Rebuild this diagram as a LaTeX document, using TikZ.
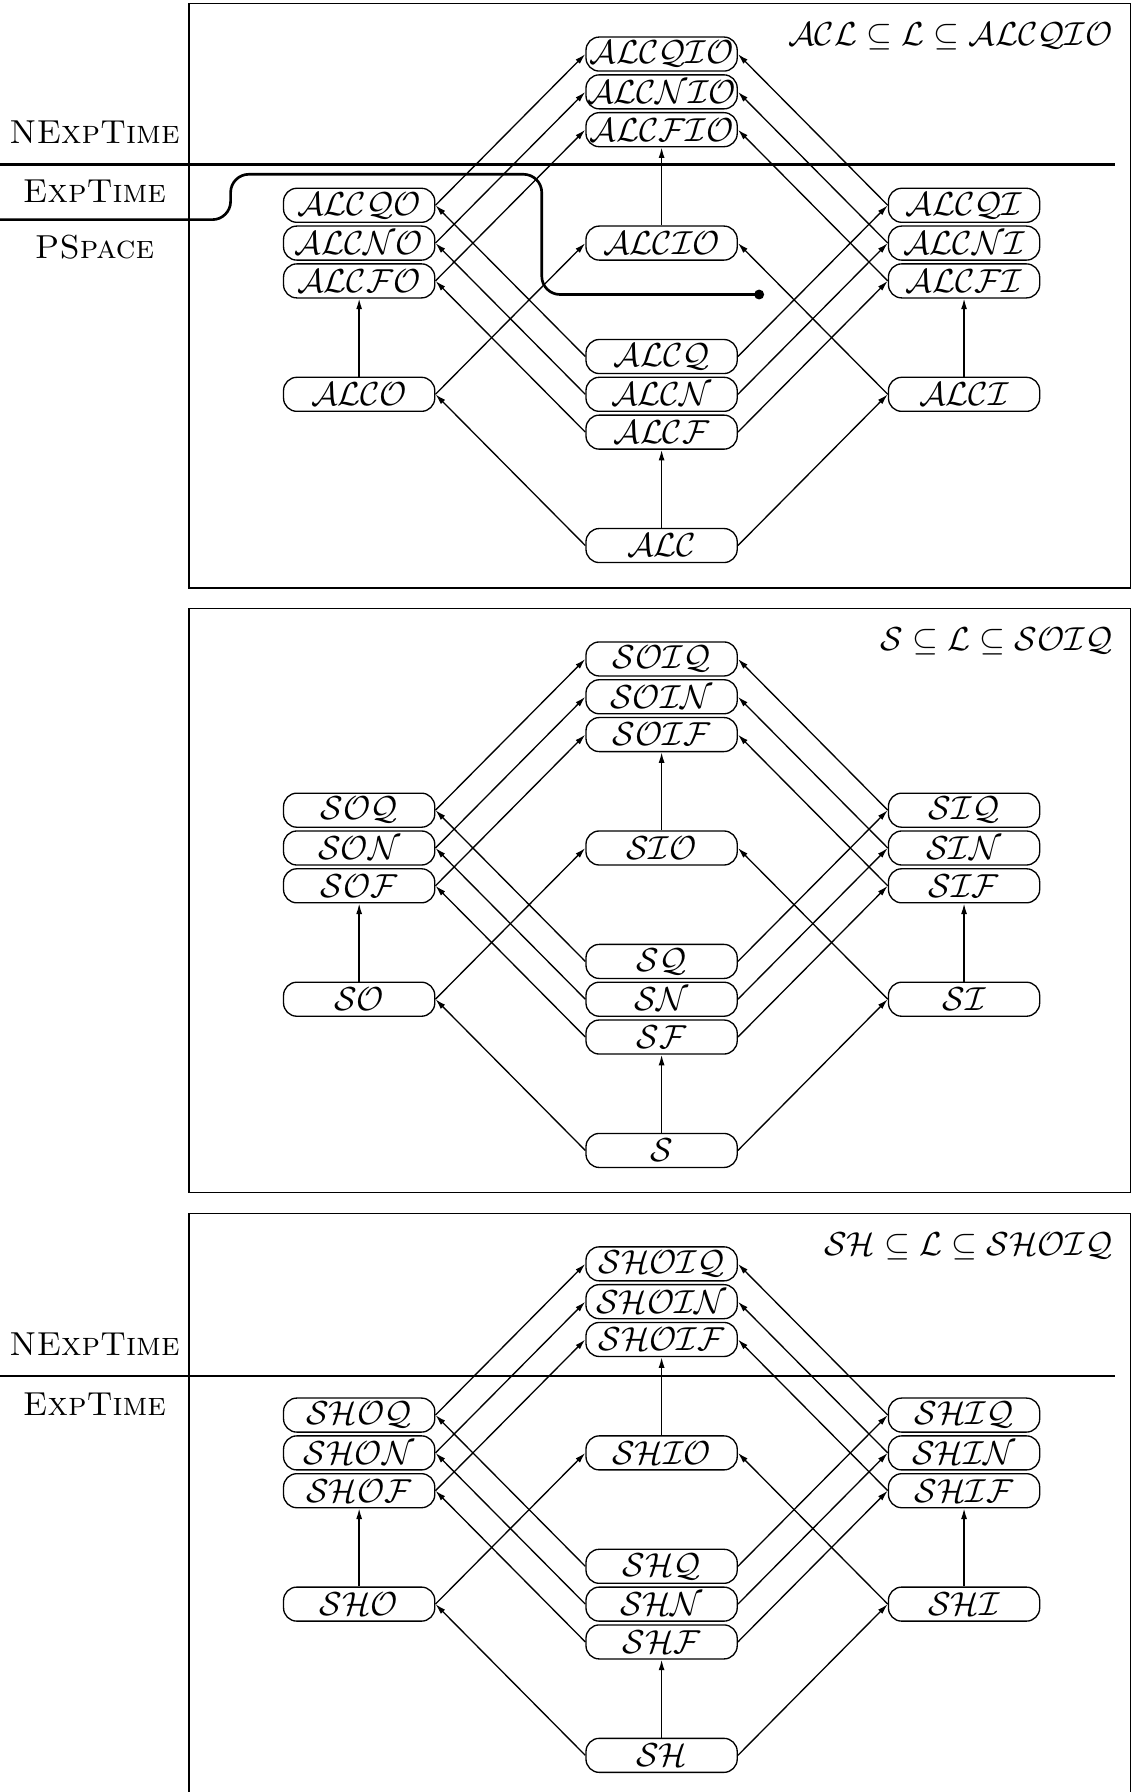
\documentclass[tikz,border=0pt]{standalone}
\usetikzlibrary{arrows.meta}

\tikzset{
	dl/.style={draw, thin, rounded corners=4pt, minimum width=1.6cm, minimum height=0.36cm, inner sep=0pt},
	incl/.style={thin, -{Latex[length=3.2pt, width=1.8pt]}},
	grenze/.style={thick},
	klasse/.style={anchor=base},
	titel/.style={anchor=base east, inner sep=0pt},
}

\begin{document}
\begin{tikzpicture}[
x=0.4cm,
y=0.4cm,
]
	\useasboundingbox (0,0.1) rectangle (30.16,-47.3);
	
	%%%%%%%%%%%%%%%%%%%%%%%%%%%%
	%Kasten 1: ALC bis ALCQIO
	%%%%%%%%%%%%%%%%%%%%%%%%%%%%
	
	\draw (5,0) rectangle (29.9,-15.45);
	\node[titel] (a-titel) at (29.45,-1.1) {$\mathcal{ACL} \subseteq \mathcal{L} \subseteq \mathcal{ALCQIO}$};
	
	\node[dl] (a-qio) at (17.5,-1.33) {$\mathcal{ALCQIO}$};
	\node[dl] (a-nio) at (17.5,-2.33) {$\mathcal{ALCNIO}$};
	\node[dl] (a-fio) at (17.5,-3.33) {$\mathcal{ALCFIO}$};
	\node[dl] (a-qo) at (9.5,-5.33) {$\mathcal{ALCQO}$};
	\node[dl] (a-no) at (9.5,-6.33) {$\mathcal{ALCNO}$};
	\node[dl] (a-fo) at (9.5,-7.33) {$\mathcal{ALCFO}$};
	\node[dl] (a-io) at (17.5,-6.33) {$\mathcal{ALCIO}$};
	\node[dl] (a-qi) at (25.5,-5.33) {$\mathcal{ALCQI}$};
	\node[dl] (a-ni) at (25.5,-6.33) {$\mathcal{ALCNI}$};
	\node[dl] (a-fi) at (25.5,-7.33) {$\mathcal{ALCFI}$};
	\node[dl] (a-q) at (17.5,-9.33) {$\mathcal{ALCQ}$};
	\node[dl] (a-n) at (17.5,-10.33) {$\mathcal{ALCN}$};
	\node[dl] (a-f) at (17.5,-11.33) {$\mathcal{ALCF}$};
	\node[dl] (a-o) at (9.5,-10.33) {$\mathcal{ALCO}$};
	\node[dl] (a-i) at (25.5,-10.33) {$\mathcal{ALCI}$};
	\node[dl] (a-b) at (17.5,-14.33) {$\mathcal{ALC}$};
	
	%Komplexitaetsklassen
	\node[klasse] (a-nexp) at (2.5,-3.7) {\textsc{NExpTime}};
	\node[klasse] (a-exp) at (2.5,-5.25) {\textsc{ExpTime}};
	\node[klasse] (a-psp) at (2.5,-6.75) {\textsc{PSpace}};
	\draw [grenze] (0,-4.25) -- (29.5,-4.25);
	\coordinate (a-ende) at (20.08,-7.69);
	\draw [grenze, rounded corners=5.5pt] (0,-5.71) -- (6.1,-5.71) -- (6.1,-4.51) -- 
		(14.33,-4.51) -- (14.33,-7.69) -- (a-ende);
	\fill (a-ende) circle [radius=1.5pt];
	
	%%%%%%%%%%%%%%%%%%%%%%%%%%%%
	%Kasten 2: S bis SOIQ
	%%%%%%%%%%%%%%%%%%%%%%%%%%%%
	
	\begin{scope}[shift={(0,-16)}]
	\draw (5,0) rectangle (29.9,-15.45);
	\node[titel] (s-titel) at (29.45,-1.1) {$\mathcal{S} \subseteq \mathcal{L} \subseteq \mathcal{SOIQ}$};
	
	\node[dl] (s-qio) at (17.5,-1.33) {$\mathcal{SOIQ}$};
	\node[dl] (s-nio) at (17.5,-2.33) {$\mathcal{SOIN}$};
	\node[dl] (s-fio) at (17.5,-3.33) {$\mathcal{SOIF}$};
	\node[dl] (s-qo) at (9.5,-5.33) {$\mathcal{SOQ}$};
	\node[dl] (s-no) at (9.5,-6.33) {$\mathcal{SON}$};
	\node[dl] (s-fo) at (9.5,-7.33) {$\mathcal{SOF}$};
	\node[dl] (s-io) at (17.5,-6.33) {$\mathcal{SIO}$};
	\node[dl] (s-qi) at (25.5,-5.33) {$\mathcal{SIQ}$};
	\node[dl] (s-ni) at (25.5,-6.33) {$\mathcal{SIN}$};
	\node[dl] (s-fi) at (25.5,-7.33) {$\mathcal{SIF}$};
	\node[dl] (s-q) at (17.5,-9.33) {$\mathcal{SQ}$};
	\node[dl] (s-n) at (17.5,-10.33) {$\mathcal{SN}$};
	\node[dl] (s-f) at (17.5,-11.33) {$\mathcal{SF}$};
	\node[dl] (s-o) at (9.5,-10.33) {$\mathcal{SO}$};
	\node[dl] (s-i) at (25.5,-10.33) {$\mathcal{SI}$};
	\node[dl] (s-b) at (17.5,-14.33) {$\mathcal{S}$};
	\end{scope}
	
	%%%%%%%%%%%%%%%%%%%%%%%%%%%%
	%Kasten 3: SH bis SHOIQ
	%%%%%%%%%%%%%%%%%%%%%%%%%%%%
	
	\begin{scope}[shift={(0,-32)}]
	\draw (5,0) rectangle (29.9,-15.6);
	\node[titel] (h-titel) at (29.45,-1.1) {$\mathcal{SH} \subseteq \mathcal{L} \subseteq \mathcal{SHOIQ}$};
	
	\node[dl] (h-qio) at (17.5,-1.33) {$\mathcal{SHOIQ}$};
	\node[dl] (h-nio) at (17.5,-2.33) {$\mathcal{SHOIN}$};
	\node[dl] (h-fio) at (17.5,-3.33) {$\mathcal{SHOIF}$};
	\node[dl] (h-qo) at (9.5,-5.33) {$\mathcal{SHOQ}$};
	\node[dl] (h-no) at (9.5,-6.33) {$\mathcal{SHON}$};
	\node[dl] (h-fo) at (9.5,-7.33) {$\mathcal{SHOF}$};
	\node[dl] (h-io) at (17.5,-6.33) {$\mathcal{SHIO}$};
	\node[dl] (h-qi) at (25.5,-5.33) {$\mathcal{SHIQ}$};
	\node[dl] (h-ni) at (25.5,-6.33) {$\mathcal{SHIN}$};
	\node[dl] (h-fi) at (25.5,-7.33) {$\mathcal{SHIF}$};
	\node[dl] (h-q) at (17.5,-9.33) {$\mathcal{SHQ}$};
	\node[dl] (h-n) at (17.5,-10.33) {$\mathcal{SHN}$};
	\node[dl] (h-f) at (17.5,-11.33) {$\mathcal{SHF}$};
	\node[dl] (h-o) at (9.5,-10.33) {$\mathcal{SHO}$};
	\node[dl] (h-i) at (25.5,-10.33) {$\mathcal{SHI}$};
	\node[dl] (h-b) at (17.5,-14.33) {$\mathcal{SH}$};
	
	%Komplexitaetsklassen
	\node[klasse] (h-nexp) at (2.5,-3.75) {\textsc{NExpTime}};
	\node[klasse] (h-exp) at (2.5,-5.35) {\textsc{ExpTime}};
	\draw [grenze] (0,-4.3) -- (29.5,-4.3);
	\end{scope}
	
	%%%%%%%%%%%%%%%%%%%%%%%%%%%%
	%Inklusionen, in allen drei Kaesten gleich
	%%%%%%%%%%%%%%%%%%%%%%%%%%%%
	
	\foreach \k in {a,s,h} {
		\draw [incl] (\k-b.north) -- (\k-f.south);
		\draw [incl] (\k-b.west) -- (\k-o.east);
		\draw [incl] (\k-b.east) -- (\k-i.west);
		\draw [incl] (\k-o.north) -- (\k-fo.south);
		\draw [incl] (\k-o.east) -- (\k-io.west);
		\draw [incl] (\k-i.north) -- (\k-fi.south);
		\draw [incl] (\k-i.west) -- (\k-io.east);
		\draw [incl] (\k-io.north) -- (\k-fio.south);
		\foreach \z in {f,n,q} {
			\draw [incl] (\k-\z.west) -- (\k-\z o.east);
			\draw [incl] (\k-\z.east) -- (\k-\z i.west);
			\draw [incl] (\k-\z o.east) -- (\k-\z io.west);
			\draw [incl] (\k-\z i.west) -- (\k-\z io.east);
		}
	}
	
\end{tikzpicture}
\end{document}
